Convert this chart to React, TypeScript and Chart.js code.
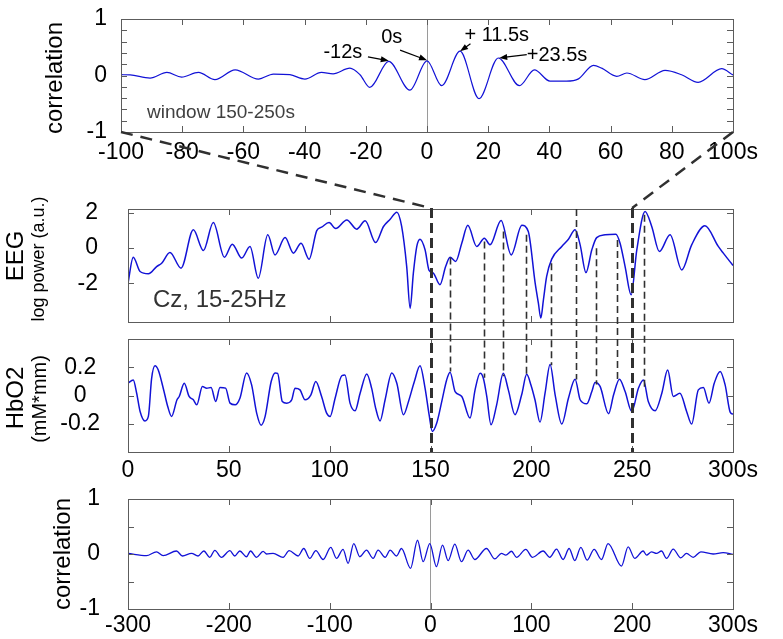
import React, { useEffect, useRef } from "react";
import { Chart, registerables } from "chart.js";

Chart.register(...registerables);

const W = 783;
const H = 639;
const FONT = '"Liberation Sans", Arial, Helvetica, sans-serif';
const BLUE = "#1212d6";
const FRAME = "#5c5c5c";
const DASH = "#303030";

// ---------- Panel 1: cross-correlation, window 150-250 s ----------
const windowLags = [-100, -97, -90.5, -85, -80.2, -74.7, -69.3, -62.7, -55.1, -50.2, -44.8, -39.9, -34.5, -30.7, -25.2, -21.9, -18.7, -12.5, -5.6, 0, 4.8, 10.8, 17, 23.3, 30.2, 35.1, 40.2, 45.6, 49.5, 54.4, 57.1, 62, 65.3, 71.2, 77.8, 83.2, 88.6, 96.3, 100];
const windowCorr = [0.014, 0.01, -0.045, 0.055, -0.027, 0.055, -0.074, 0.1, -0.063, 0.025, 0.014, -0.063, 0.055, 0.03, 0.13, 0.014, -0.21, 0.25, -0.26, 0.26, -0.18, 0.43, -0.41, 0.31, -0.18, 0.1, -0.1, -0.1, -0.06, 0.18, 0.13, -0.015, 0.044, -0.074, 0.09, 0.014, -0.12, 0.12, 0.01];
const windowXTicks = [-100, -80, -60, -40, -20, 0, 20, 40, 60, 80, 100];
const windowYTicks = [-1, -0.8, -0.6, -0.4, -0.2, 0, 0.2, 0.4, 0.6, 0.8, 1];
const windowYLabelled = [-1, 0, 1];

// peak annotations
const peakLabels = ["-12s", "0s", "+ 11.5s", "+23.5s"];
const peakLags = [-12.5, 0, 10.8, 23.6];
const peakCorr = [0.26, 0.27, 0.43, 0.31];

// ---------- Panel 2: EEG log power ----------
const eegTime = [0, 2.6, 6, 10.1, 14.2, 16.7, 20.8, 26.3, 32.4, 37.4, 42.3, 47.8, 51.7, 56.4, 60.5, 64.6, 69.3, 72.9, 77.9, 82, 85.8, 89.8, 93.6, 96, 99.7, 103, 108.5, 113.4, 117.6, 122.8, 126.7, 130, 133.3, 135.7, 138.2, 139.9, 141.5, 143.2, 144.8, 147.3, 149.3, 151.4, 154.7, 157.5, 159.7, 162.5, 165.5, 168.5, 172.9, 176.7, 179.5, 185, 190, 195.3, 198.5, 201.9, 203.5, 204.7, 206, 207.6, 210.1, 215.1, 218.4, 221.7, 224.2, 227.1, 230, 232.4, 236.6, 241.9, 244, 246.5, 249.5, 252.3, 256.4, 259.7, 263.5, 268.8, 274.6, 279.5, 286.1, 292.7, 295.2, 300];
const eegPower = [-2.0, -0.53, -1.34, -1.47, -1.06, -0.87, -0.26, -1.15, 1.02, -0.15, 1.43, -0.53, 0.21, -0.58, 0.08, -1.72, 0.74, -0.4, 0.58, -0.3, 0.26, -0.64, 0.98, 1.17, 1.43, 1.09, 1.58, 1.06, 1.53, 0.3, 1.21, 1.62, 2.02, 1.21, -1.06, -3.42, -1.43, 0.08, 0.49, -0.11, -1.28, -1.43, -2.09, -1.06, -0.53, -0.77, 0.26, 1.28, 0.08, 0.55, 0.17, 1.55, -0.4, 1.28, 0.92, -2.0, -3.13, -3.98, -2.94, -1.62, -0.64, 0.08, 0.49, 1.02, 0.17, -1.4, -0.11, 0.58, 0.74, 0.77, 0.26, -1.06, -2.66, -0.11, 2.06, 1.21, -0.21, 0.74, -1.25, 0.17, 1.25, 0.08, -0.3, -1.0];
const timeTicks = [0, 50, 100, 150, 200, 250, 300];
const eegYTicks = [-2, 0, 2];

// ---------- Panel 3: HbO2 ----------
const hbTime = [0, 2.6, 4.3, 6, 8.4, 10.1, 11.7, 13.4, 15, 17.5, 19.7, 21.6, 24.3, 25.4, 27.9, 30.3, 32.4, 34.1, 36.9, 39, 41.2, 43.5, 45.6, 48.4, 50.6, 53.1, 55.5, 58.8, 61.3, 63.8, 66, 68, 71, 73, 74.2, 76.5, 78.7, 81.2, 82.8, 85.3, 87.8, 90.7, 93.1, 96, 98.5, 100.2, 102.7, 106, 107.6, 110.1, 112.6, 115.1, 118.4, 120.8, 122.8, 125, 127.5, 130.8, 133.3, 136.6, 139.1, 142, 144.8, 147.3, 149.3, 150.9, 153.1, 155.6, 158, 159.7, 162.2, 165.5, 169.6, 172.1, 174.6, 176.2, 177.9, 180, 182.8, 186.1, 188.6, 191.9, 195.2, 197.7, 199.8, 201.8, 204.3, 206.8, 209.3, 211.8, 215.1, 218.4, 221.7, 224.2, 227.5, 230, 231.6, 234.1, 238.3, 240.8, 243.7, 246.5, 249.8, 253.1, 255.6, 258, 261.4, 264.7, 267.6, 270.4, 273.7, 277, 279.5, 282.8, 285.3, 288.1, 290.7, 293.6, 296.1, 298.6, 300];
const hbValues = [0.087, 0.11, 0.016, -0.113, -0.18, -0.148, 0.12, 0.21, 0.18, 0.05, -0.078, -0.148, -0.03, -0.007, 0.087, -0.007, -0.03, -0.066, 0.064, 0.052, 0.056, -0.042, 0.056, 0.052, -0.054, -0.066, -0.019, 0.16, 0.075, -0.125, -0.21, -0.148, 0.099, 0.16, 0.157, -0.042, -0.054, -0.03, 0.052, 0.04, -0.03, 0.005, 0.099, -0.007, -0.125, -0.148, -0.019, 0.14, 0.146, -0.054, -0.108, 0.016, 0.153, 0.052, -0.089, -0.18, -0.03, 0.16, 0.087, -0.136, -0.042, 0.099, 0.21, 0.052, -0.136, -0.254, -0.195, -0.042, 0.11, 0.165, 0.028, -0.007, -0.16, 0.04, 0.157, 0.122, -0.007, -0.207, -0.066, 0.157, 0.04, -0.136, 0.005, 0.15, 0.075, -0.03, -0.188, 0.016, 0.22, 0.005, -0.202, -0.019, 0.115, -0.03, -0.059, 0.028, 0.092, 0.064, -0.129, 0.005, 0.115, 0.028, -0.113, 0.052, 0.11, -0.042, -0.108, 0.016, 0.18, -0.007, 0.016, -0.113, -0.202, 0.04, 0.056, -0.054, 0.087, 0.17, 0.075, -0.118, -0.132];
const hbYTicks = [-0.2, 0, 0.2];

// analysis window and matched events
const windowBounds = [150, 250];
const linkTimes = [159.7, 176.5, 185.8, 197.4, 209.8, 222.2, 232.1, 242.7, 255.9];
const linkEeg = [-0.55, 0.36, 0.92, 0.74, -0.87, 2.2, -0.02, 0.45, 1.87];
const linkHb = [0.17, 0.125, 0.136, 0.125, 0.214, 0.113, 0.078, 0.113, 0.054];

// ---------- Panel 4: cross-correlation, full record ----------
const fullLags = [-300, -281.7, -271.7, -265.2, -251.9, -246, -237, -230.5, -224.8, -218.9, -213.9, -207.3, -199, -194.1, -189.1, -182.5, -178.5, -172.6, -166, -162.6, -156.1, -146.2, -140.2, -131.3, -125.7, -119.7, -113.7, -106.5, -98.9, -93.2, -86.7, -81.7, -76.1, -70.1, -63.5, -56.9, -52, -45, -40, -33.7, -28.8, -19.8, -12.9, -7.3, -0.7, 5.9, 11.9, 17.5, 24.1, 30.7, 37.3, 43.9, 55.5, 63.8, 70.4, 74.7, 80.3, 85.3, 94.5, 101.2, 111.7, 118.3, 125, 131.5, 137.5, 143.1, 149.1, 155.3, 162.3, 169.6, 176.1, 189.4, 196, 202.6, 210.9, 214.2, 219.2, 224.1, 229.1, 234.1, 240.7, 248.2, 253.9, 260.5, 268.1, 280.3, 290.2, 300];
const fullCorr = [0.012, -0.03, 0.04, -0.03, 0.055, -0.036, 0.012, -0.036, 0.055, -0.06, 0.067, -0.06, 0.06, -0.036, 0.055, -0.05, 0.055, -0.06, 0.048, 0.0, 0.012, -0.06, 0.06, -0.036, 0.1, -0.08, 0.06, -0.1, 0.12, -0.08, 0.085, -0.17, 0.19, -0.05, 0.07, -0.08, 0.07, -0.06, 0.07, -0.036, 0.1, -0.26, 0.25, -0.14, 0.19, -0.23, 0.16, -0.12, 0.18, -0.14, 0.07, -0.1, 0.1, -0.09, 0.01, -0.02, 0.05, -0.06, 0.085, -0.06, 0.055, -0.06, 0.09, -0.1, 0.1, -0.12, 0.12, -0.11, 0.085, -0.1, 0.19, -0.22, 0.13, -0.08, 0.055, -0.02, 0.04, 0.01, 0.055, -0.08, 0.09, -0.07, 0.01, -0.06, 0.04, 0.0, 0.024, -0.006];
const fullXTicks = [-300, -200, -100, 0, 100, 200, 300];
const fullYTicks = [-1, -0.5, 0, 0.5, 1];
const fullYLabelled = [-1, 0, 1];

// ---------- layout (pixels) ----------
const AREA1 = [121, 19, 733, 132];
const AREA2 = [128, 209, 733, 322];
const AREA3 = [128, 339, 733, 452];
const AREA4 = [128, 499, 733, 609];

type SideLabel = { text: string; x: number; y: number; size: number };
type PanelCfg = {
  area: number[];
  xs: number[];
  ys: number[];
  xMin: number;
  xMax: number;
  yMin: number;
  yMax: number;
  xTicks: number[];
  yTicks: number[];
  xLabel: (v: number) => string;
  yLabel: (v: number) => string;
  showX: boolean;
  xPad: number;
  yPad: number;
  yCenter?: boolean;
  zero?: boolean;
  lw: number;
  side: SideLabel[];
  extra?: (chart: any) => void;
};

function buildChart(canvas: HTMLCanvasElement, p: PanelCfg) {
  const yW = 120;
  const xH = p.showX ? 30 : 0;
  const [l, t, r, b] = p.area;
  const frame = {
    id: "frame",
    afterDatasetsDraw(chart: any) {
      const { ctx, chartArea: a, scales } = chart;
      ctx.save();
      ctx.strokeStyle = FRAME;
      ctx.lineWidth = 1;
      ctx.beginPath();
      const L = 6;
      scales.x.ticks.forEach((tk: any) => {
        const px = Math.round(scales.x.getPixelForValue(tk.value)) + 0.5;
        ctx.moveTo(px, a.bottom);
        ctx.lineTo(px, a.bottom - L);
        ctx.moveTo(px, a.top);
        ctx.lineTo(px, a.top + L);
      });
      scales.y.ticks.forEach((tk: any) => {
        const py = Math.round(scales.y.getPixelForValue(tk.value)) + 0.5;
        ctx.moveTo(a.left, py);
        ctx.lineTo(a.left + L, py);
        ctx.moveTo(a.right, py);
        ctx.lineTo(a.right - L, py);
      });
      ctx.stroke();
      ctx.strokeRect(Math.round(a.left) + 0.5, Math.round(a.top) + 0.5, Math.round(a.right - a.left), Math.round(a.bottom - a.top));
      ctx.restore();
    },
    afterDraw(chart: any) {
      const ctx = chart.ctx;
      ctx.save();
      ctx.fillStyle = "#000";
      p.side.forEach((s) => {
        ctx.save();
        ctx.translate(s.x, s.y);
        ctx.rotate(-Math.PI / 2);
        ctx.font = `${s.size}px ${FONT}`;
        ctx.textAlign = "center";
        ctx.textBaseline = "alphabetic";
        ctx.fillText(s.text, 0, 0);
        ctx.restore();
      });
      ctx.restore();
      if (p.extra) p.extra(chart);
    },
  };
  return new Chart(canvas, {
    type: "line",
    data: {
      datasets: [
        {
          data: p.xs.map((x, i) => ({ x, y: p.ys[i] })),
          borderColor: BLUE,
          borderWidth: p.lw,
          pointRadius: 0,
          cubicInterpolationMode: "monotone",
          fill: false,
        },
      ],
    },
    options: {
      responsive: false,
      animation: false,
      events: [],
      layout: { padding: { left: l - yW, top: t, right: W - r, bottom: H - b - xH } },
      plugins: { legend: { display: false }, tooltip: { enabled: false }, title: { display: false } },
      scales: {
        x: {
          type: "linear",
          min: p.xMin,
          max: p.xMax,
          afterBuildTicks: (s: any) => {
            s.ticks = p.xTicks.map((v) => ({ value: v }));
          },
          afterFit: (s: any) => {
            s.height = xH;
            s.paddingLeft = 0;
            s.paddingRight = 0;
          },
          ticks: {
            display: p.showX,
            padding: p.xPad,
            maxRotation: 0,
            autoSkip: false,
            color: "#000",
            font: { family: FONT, size: 23 },
            callback: (v: any) => p.xLabel(Number(v)),
          },
          grid: {
            drawTicks: false,
            lineWidth: 1,
            color: (ctx: any) => (p.zero && ctx.tick && ctx.tick.value === 0 ? "#9a9a9a" : "rgba(0,0,0,0)"),
          },
          border: { display: false },
        },
        y: {
          type: "linear",
          min: p.yMin,
          max: p.yMax,
          afterBuildTicks: (s: any) => {
            s.ticks = p.yTicks.map((v) => ({ value: v }));
          },
          afterFit: (s: any) => {
            s.width = yW;
            s.paddingTop = 0;
            s.paddingBottom = 0;
          },
          ticks: {
            padding: p.yPad,
            autoSkip: false,
            crossAlign: p.yCenter ? "center" : "near",
            color: "#000",
            font: { family: FONT, size: 23 },
            callback: (v: any) => p.yLabel(Number(v)),
          },
          grid: { display: false, drawTicks: false },
          border: { display: false },
        },
      },
    },
    plugins: [frame],
  } as any);
}

function arrow(ctx: CanvasRenderingContext2D, x1: number, y1: number, x2: number, y2: number) {
  const ang = Math.atan2(y2 - y1, x2 - x1);
  const len = 8;
  const wid = 3;
  ctx.beginPath();
  ctx.moveTo(x1, y1);
  ctx.lineTo(x2 - Math.cos(ang) * len * 0.8, y2 - Math.sin(ang) * len * 0.8);
  ctx.stroke();
  ctx.beginPath();
  ctx.moveTo(x2, y2);
  ctx.lineTo(x2 - Math.cos(ang) * len - Math.sin(ang) * wid, y2 - Math.sin(ang) * len + Math.cos(ang) * wid);
  ctx.lineTo(x2 - Math.cos(ang) * len + Math.sin(ang) * wid, y2 - Math.sin(ang) * len - Math.cos(ang) * wid);
  ctx.closePath();
  ctx.fill();
}

// text anchors for the peak annotations (data coordinates of panel 1)
const peakTextAt = [
  [-27.5, 0.4],
  [-11.5, 0.68],
  [22.8, 0.7],
  [42.5, 0.36],
];
const peakTailAt = [
  [-19.3, 0.33],
  [-8.8, 0.45],
  [14.2, 0.56],
  [32.6, 0.37],
];

export default function App() {
  const r1 = useRef<HTMLCanvasElement>(null);
  const r2 = useRef<HTMLCanvasElement>(null);
  const r3 = useRef<HTMLCanvasElement>(null);
  const r4 = useRef<HTMLCanvasElement>(null);
  const r5 = useRef<HTMLCanvasElement>(null);

  useEffect(() => {
    const c1 = buildChart(r1.current!, {
      area: AREA1,
      xs: windowLags,
      ys: windowCorr,
      xMin: -100,
      xMax: 100,
      yMin: -1,
      yMax: 1,
      xTicks: windowXTicks,
      yTicks: windowYTicks,
      xLabel: (v) => (v === 100 ? "100s" : String(v)),
      yLabel: (v) => (windowYLabelled.includes(v) ? String(v) : ""),
      showX: true,
      xPad: 7,
      yPad: 14,
      zero: true,
      lw: 1.2,
      side: [{ text: "correlation", x: 62, y: 78, size: 24 }],
      extra: (chart) => {
        const { ctx, scales } = chart;
        const X = scales.x;
        const Y = scales.y;
        ctx.save();
        ctx.fillStyle = "#000";
        ctx.strokeStyle = "#000";
        ctx.lineWidth = 1.2;
        ctx.font = `20px ${FONT}`;
        ctx.textAlign = "center";
        ctx.textBaseline = "middle";
        peakLabels.forEach((lab, i) => {
          ctx.fillText(lab, X.getPixelForValue(peakTextAt[i][0]), Y.getPixelForValue(peakTextAt[i][1]));
          arrow(
            ctx,
            X.getPixelForValue(peakTailAt[i][0]),
            Y.getPixelForValue(peakTailAt[i][1]),
            X.getPixelForValue(peakLags[i]),
            Y.getPixelForValue(peakCorr[i])
          );
        });
        ctx.fillStyle = "#404040";
        ctx.font = `19px ${FONT}`;
        ctx.textAlign = "left";
        ctx.fillText("window 150-250s", X.getPixelForValue(-91.5), Y.getPixelForValue(-0.66));
        ctx.restore();
      },
    });
    const c2 = buildChart(r2.current!, {
      area: AREA2,
      xs: eegTime,
      ys: eegPower,
      xMin: 0,
      xMax: 300,
      yMin: -4.2,
      yMax: 2.2,
      xTicks: timeTicks,
      yTicks: eegYTicks,
      xLabel: () => "",
      yLabel: (v) => String(v),
      showX: false,
      xPad: 0,
      yPad: 30,
      lw: 1.5,
      side: [
        { text: "EEG", x: 23, y: 256, size: 24 },
        { text: "log power (a.u.)", x: 44, y: 259, size: 18 },
      ],
      extra: (chart) => {
        const { ctx, scales } = chart;
        ctx.save();
        ctx.fillStyle = "#333";
        ctx.font = `24px ${FONT}`;
        ctx.textAlign = "left";
        ctx.textBaseline = "middle";
        ctx.fillText("Cz, 15-25Hz", scales.x.getPixelForValue(12.4), scales.y.getPixelForValue(-3.0));
        ctx.restore();
      },
    });
    const c3 = buildChart(r3.current!, {
      area: AREA3,
      xs: hbTime,
      ys: hbValues,
      xMin: 0,
      xMax: 300,
      yMin: -0.4,
      yMax: 0.4,
      xTicks: timeTicks,
      yTicks: hbYTicks,
      xLabel: (v) => (v === 300 ? "300s" : String(v)),
      yLabel: (v) => String(v),
      showX: true,
      xPad: 5,
      yPad: 28,
      yCenter: true,
      lw: 1.5,
      side: [
        { text: "HbO2", x: 23, y: 398, size: 24 },
        { text: "(mM*mm)", x: 46, y: 399, size: 20 },
      ],
    });
    const c4 = buildChart(r4.current!, {
      area: AREA4,
      xs: fullLags,
      ys: fullCorr,
      xMin: -300,
      xMax: 300,
      yMin: -1,
      yMax: 1,
      xTicks: fullXTicks,
      yTicks: fullYTicks,
      xLabel: (v) => (v === 300 ? "300s" : String(v)),
      yLabel: (v) => (fullYLabelled.includes(v) ? String(v) : ""),
      showX: true,
      xPad: 3,
      yPad: 28,
      zero: true,
      lw: 1.3,
      side: [{ text: "correlation", x: 70, y: 554, size: 24 }],
    });

    // overlay: zoom connectors and event links, placed through the charts' scales
    const ov = r5.current!;
    const ctx = ov.getContext("2d")!;
    ctx.clearRect(0, 0, W, H);
    const x1 = c1.scales.x as any;
    const y1 = c1.scales.y as any;
    const x2 = c2.scales.x as any;
    const y2 = c2.scales.y as any;
    const y3 = c3.scales.y as any;
    const top2 = c2.chartArea.top - 1;
    const bot3 = c3.chartArea.bottom;
    ctx.save();
    ctx.strokeStyle = DASH;
    // connectors
    ctx.lineWidth = 2.5;
    ctx.setLineDash([12, 8]);
    ctx.beginPath();
    ctx.moveTo(x1.getPixelForValue(x1.min), y1.getPixelForValue(y1.min));
    ctx.lineTo(x2.getPixelForValue(windowBounds[0]), top2);
    ctx.moveTo(x1.getPixelForValue(x1.max), y1.getPixelForValue(y1.min));
    ctx.lineTo(x2.getPixelForValue(windowBounds[1]), top2);
    ctx.stroke();
    // bold window bounds
    ctx.lineWidth = 3;
    ctx.setLineDash([10, 5]);
    ctx.beginPath();
    windowBounds.forEach((tb) => {
      const px = Math.round(x2.getPixelForValue(tb)) + 0.5;
      ctx.moveTo(px, top2);
      ctx.lineTo(px, bot3);
    });
    ctx.stroke();
    // event links
    ctx.lineWidth = 1.6;
    ctx.setLineDash([7, 4]);
    ctx.beginPath();
    linkTimes.forEach((tt, i) => {
      const px = Math.round(x2.getPixelForValue(tt)) + 0.5;
      ctx.moveTo(px, y2.getPixelForValue(linkEeg[i]));
      ctx.lineTo(px, y3.getPixelForValue(linkHb[i]));
    });
    ctx.stroke();
    ctx.restore();

    return () => {
      c1.destroy();
      c2.destroy();
      c3.destroy();
      c4.destroy();
    };
  }, []);

  const st: React.CSSProperties = { position: "absolute", left: 0, top: 0 };
  return (
    <div style={{ position: "absolute", left: 0, top: 0, width: W, height: H, background: "#fff" }}>
      <canvas ref={r1} width={W} height={H} style={st} />
      <canvas ref={r2} width={W} height={H} style={st} />
      <canvas ref={r3} width={W} height={H} style={st} />
      <canvas ref={r4} width={W} height={H} style={st} />
      <canvas ref={r5} width={W} height={H} style={st} />
    </div>
  );
}
